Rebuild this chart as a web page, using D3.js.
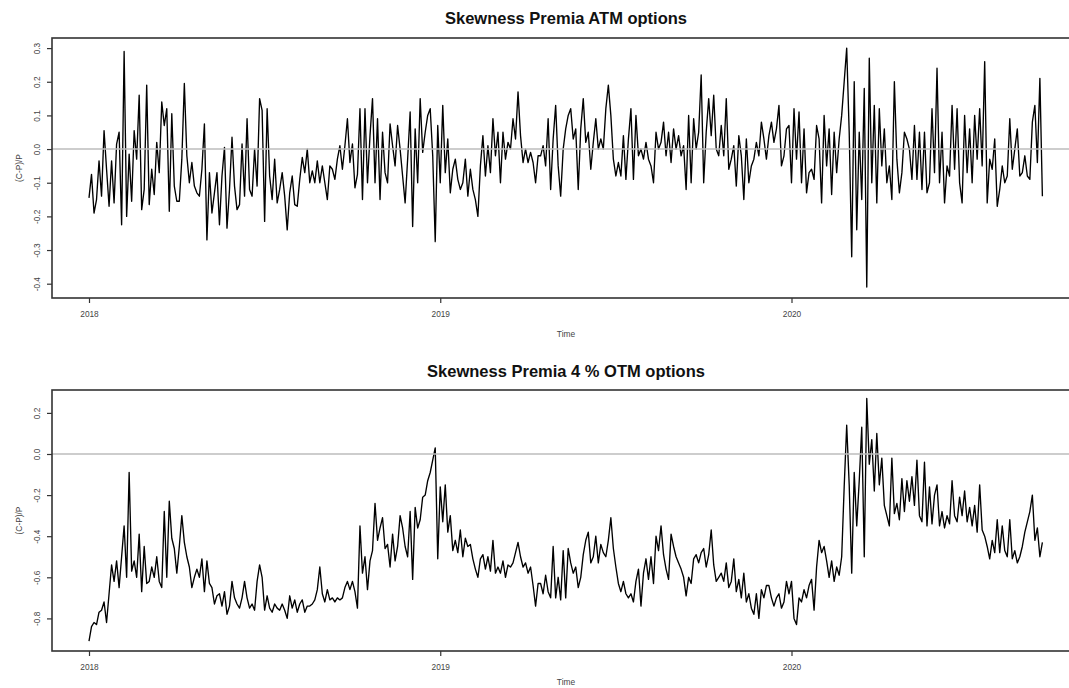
<!DOCTYPE html>
<html>
<head>
<meta charset="utf-8">
<script src="https://cdn.jsdelivr.net/npm/d3@7"></script>
<style>
  body { margin: 0; background: #fff; }
  svg { display: block; font-family: "Liberation Sans", Arial, sans-serif; }
</style>
</head>
<body>
<div id="chart"></div>
<script>
// ts-like series: start year and observations per year
const tsStart = 2018.0;
const tsFreq = 140;

const atmValues = [
  -0.145, -0.075, -0.19, -0.15, -0.035, -0.14, 0.055, -0.06, -0.17, -0.035, -0.16, 0.015,
  0.05, -0.225, 0.29, -0.2, -0.015, -0.155, 0.055, -0.03, 0.16, -0.18, -0.12, 0.19,
  -0.165, -0.06, -0.135, 0.02, -0.07, 0.14, 0.07, 0.12, -0.185, 0.105, -0.11, -0.155,
  -0.155, -0.03, 0.195, -0.02, -0.1, -0.04, -0.11, -0.13, -0.14, -0.06, 0.075, -0.27,
  -0.07, -0.19, -0.13, -0.07, -0.225, -0.08, 0.005, -0.235, -0.12, 0.035, -0.11, -0.18,
  -0.165, 0.015, -0.14, 0.09, -0.12, -0.14, 0.0, -0.11, 0.15, 0.115, -0.215, 0.12,
  -0.08, -0.15, -0.03, -0.16, -0.12, -0.07, -0.14, -0.24, -0.13, -0.08, -0.165, -0.17,
  -0.09, -0.025, -0.07, 0.0, -0.1, -0.065, -0.1, -0.035, -0.1, -0.05, -0.1, -0.15,
  -0.05, -0.06, -0.09, -0.03, 0.01, -0.06, 0.01, 0.09, -0.04, 0.015, -0.115, -0.075,
  0.12, -0.15, 0.12, -0.1, 0.04, 0.15, -0.1, 0.09, -0.15, 0.05, -0.07, -0.1,
  0.075, 0.01, -0.05, 0.07, 0.0, -0.08, -0.16, -0.03, 0.11, -0.23, 0.06, -0.1,
  0.15, -0.01, 0.05, 0.1, 0.12, -0.02, -0.275, 0.07, -0.1, 0.13, -0.07, 0.03,
  -0.13, -0.06, -0.03, -0.09, -0.12, -0.1, -0.03, -0.14, -0.06, -0.12, -0.15, -0.2,
  -0.05, 0.04, -0.08, 0.01, -0.07, 0.09, -0.02, 0.05, -0.1, 0.05, -0.03, 0.02,
  0.0, 0.09, 0.03, 0.17, 0.04, -0.04, 0.0, -0.04, -0.01, -0.04, -0.1, -0.02,
  -0.02, 0.01, -0.05, 0.09, -0.12, 0.03, 0.13, -0.05, -0.14, 0.0, 0.06, 0.1,
  0.12, 0.03, 0.06, -0.12, 0.06, 0.15, 0.02, 0.05, -0.06, 0.02, 0.09, 0.0,
  0.03, 0.0, 0.12, 0.19, 0.1, -0.03, -0.08, -0.04, -0.08, 0.04, -0.09, 0.03,
  0.12, -0.09, 0.1, -0.02, 0.0, -0.03, 0.02, -0.03, -0.05, -0.1, 0.05, 0.0,
  0.02, 0.08, -0.02, 0.05, -0.04, 0.06, 0.0, 0.04, -0.02, 0.01, -0.12, 0.1,
  -0.1, 0.09, 0.0, 0.05, 0.22, -0.1, 0.05, 0.15, 0.04, 0.16, 0.0, -0.02,
  0.07, -0.02, 0.15, -0.06, -0.03, 0.01, -0.11, 0.04, -0.02, -0.15, 0.03, -0.1,
  -0.05, -0.03, 0.02, -0.02, 0.08, 0.03, -0.03, 0.04, 0.08, 0.02, 0.06, 0.13,
  -0.05, -0.02, 0.06, 0.07, -0.1, 0.12, -0.03, 0.11, -0.1, 0.06, -0.13, -0.07,
  -0.06, -0.09, 0.07, 0.03, -0.16, 0.1, -0.05, 0.06, -0.135, 0.05, -0.07, 0.03,
  0.1, 0.2, 0.3, 0.05, -0.32, 0.2, -0.24, 0.05, -0.15, 0.18, -0.41, 0.27,
  -0.1, 0.13, -0.16, 0.12, -0.05, 0.06, -0.1, -0.05, -0.15, 0.2, -0.03, -0.13,
  -0.07, 0.05, 0.03, 0.0, -0.09, 0.07, -0.09, 0.05, -0.12, 0.05, -0.13, -0.1,
  0.12, -0.07, 0.24, -0.1, 0.05, -0.16, -0.05, -0.08, 0.13, -0.06, 0.12, -0.1,
  -0.16, 0.1, -0.07, 0.06, -0.1, 0.1, -0.03, 0.12, -0.05, 0.26, -0.16, -0.03,
  -0.06, 0.03, -0.17, -0.12, -0.05, -0.1, -0.08, 0.09, -0.06, 0.0, 0.06, -0.08,
  -0.07, -0.02, -0.08, -0.09, 0.08, 0.13, -0.04, 0.21, -0.14
];

const otmValues = [
  -0.91, -0.84, -0.82, -0.83, -0.77, -0.76, -0.72, -0.82, -0.68, -0.54, -0.62, -0.52,
  -0.65, -0.5, -0.35, -0.6, -0.09, -0.57, -0.52, -0.6, -0.39, -0.67, -0.45, -0.63,
  -0.62, -0.55, -0.6, -0.5, -0.62, -0.65, -0.28, -0.6, -0.23, -0.41, -0.46, -0.58,
  -0.45, -0.3, -0.43, -0.5, -0.55, -0.65, -0.6, -0.56, -0.6, -0.51, -0.67, -0.52,
  -0.63, -0.65, -0.73, -0.69, -0.68, -0.74, -0.67, -0.78, -0.74, -0.62, -0.7, -0.73,
  -0.75, -0.7, -0.62, -0.7, -0.75, -0.73, -0.76, -0.62, -0.54, -0.6, -0.76, -0.69,
  -0.75, -0.77, -0.73, -0.75, -0.76, -0.73, -0.76, -0.8, -0.69, -0.75, -0.71, -0.77,
  -0.73, -0.71, -0.77, -0.74, -0.74, -0.73, -0.71, -0.66, -0.55, -0.68, -0.72, -0.66,
  -0.71, -0.7, -0.72, -0.7, -0.71, -0.7, -0.65, -0.62, -0.66, -0.62, -0.67, -0.75,
  -0.35, -0.58, -0.5, -0.66, -0.52, -0.47, -0.24, -0.42, -0.36, -0.31, -0.46, -0.44,
  -0.55, -0.39, -0.52, -0.45, -0.3, -0.36, -0.45, -0.5, -0.28, -0.61, -0.26, -0.36,
  -0.32, -0.21, -0.2, -0.13, -0.09, -0.03, 0.03, -0.51, -0.16, -0.33, -0.15, -0.38,
  -0.3, -0.47, -0.42, -0.48, -0.37, -0.5, -0.41, -0.45, -0.44, -0.51, -0.56, -0.6,
  -0.51, -0.49, -0.56, -0.5, -0.57, -0.42, -0.58, -0.55, -0.58, -0.52, -0.6, -0.54,
  -0.55, -0.53, -0.48, -0.43, -0.5, -0.55, -0.53, -0.58, -0.55, -0.64, -0.74, -0.63,
  -0.63, -0.68, -0.59, -0.67, -0.7, -0.45, -0.7, -0.6, -0.71, -0.47, -0.7, -0.46,
  -0.53, -0.58, -0.55, -0.65, -0.6, -0.49, -0.42, -0.38, -0.53, -0.5, -0.4, -0.53,
  -0.44, -0.48, -0.5, -0.42, -0.31, -0.46, -0.55, -0.63, -0.67, -0.62, -0.68, -0.7,
  -0.68, -0.72, -0.62, -0.56, -0.74, -0.58, -0.51, -0.61, -0.5, -0.63, -0.4, -0.47,
  -0.35, -0.49, -0.56, -0.61, -0.39, -0.45, -0.5, -0.53, -0.56, -0.6, -0.69, -0.6,
  -0.63, -0.51, -0.49, -0.53, -0.48, -0.46, -0.55, -0.49, -0.37, -0.54, -0.62, -0.6,
  -0.58, -0.62, -0.53, -0.65, -0.62, -0.51, -0.67, -0.61, -0.7, -0.58, -0.72, -0.68,
  -0.75, -0.78, -0.68, -0.8, -0.66, -0.7, -0.64, -0.64, -0.7, -0.74, -0.7, -0.68,
  -0.75, -0.72, -0.62, -0.68, -0.62, -0.8, -0.83, -0.7, -0.72, -0.66, -0.7, -0.64,
  -0.61, -0.76, -0.55, -0.42, -0.48, -0.45, -0.52, -0.6, -0.52, -0.62, -0.55, -0.59,
  -0.5, -0.16, 0.14, -0.15, -0.58, -0.09, -0.35, -0.13, 0.13, -0.5, 0.27, -0.05,
  0.07, -0.18, 0.1, -0.15, -0.02, -0.25, -0.3, -0.35, -0.02, -0.29, -0.24, -0.32,
  -0.12, -0.28, -0.13, -0.23, -0.11, -0.25, -0.03, -0.3, -0.33, -0.04, -0.35, -0.16,
  -0.34, -0.2, -0.15, -0.35, -0.28, -0.36, -0.3, -0.34, -0.13, -0.3, -0.33, -0.21,
  -0.3, -0.18, -0.33, -0.26, -0.35, -0.25, -0.38, -0.15, -0.37, -0.4, -0.45, -0.51,
  -0.42, -0.48, -0.32, -0.48, -0.35, -0.47, -0.5, -0.32, -0.51, -0.47, -0.53, -0.5,
  -0.45, -0.38, -0.33, -0.28, -0.2, -0.42, -0.36, -0.5, -0.43
];

const yearTicks = [2018, 2019, 2020];
const atmTicks = [-0.4, -0.3, -0.2, -0.1, 0.0, 0.1, 0.2, 0.3];
const otmTicks = [-0.8, -0.6, -0.4, -0.2, 0.0, 0.2];
const atmTitle = "Skewness Premia ATM options";
const otmTitle = "Skewness Premia 4 % OTM options";
const xLabelText = "Time";
const yLabelText = "(C-P)/P";

let width = 1069;
let height = 688;

let svg = d3.select("#chart").append("svg")
  .attr("width", width)
  .attr("height", height);

let boxLeft = 52;
let boxRight = 1080; // right edge is cut off in the original
let xScale = d3.scaleLinear()
  .domain([2018, 2020])
  .range([89, 791.5]);

let fmt = d3.format(".1f");

function drawPanel(values, ticks, yDomain, top, bottom, title, titleY, timeY) {
  let g = svg.append("g");
  let yScale = d3.scaleLinear()
    .domain(yDomain)
    .range([bottom, top]);

  let line = d3.line()
    .x((d, i) => xScale(tsStart + i / tsFreq))
    .y((d) => yScale(d));

  g.append("path")
    .datum(values)
    .attr("fill", "none")
    .attr("stroke", "#000")
    .attr("stroke-width", 1.35)
    .attr("stroke-linejoin", "round")
    .attr("d", line);

  // abline(h = 0)
  g.append("line")
    .attr("x1", boxLeft).attr("x2", boxRight)
    .attr("y1", yScale(0)).attr("y2", yScale(0))
    .attr("stroke", "#bdbdbd")
    .attr("stroke-width", 1.4);

  g.append("rect")
    .attr("x", boxLeft).attr("y", top)
    .attr("width", boxRight - boxLeft).attr("height", bottom - top)
    .attr("fill", "none")
    .attr("stroke", "#333")
    .attr("stroke-width", 1.6);

  let xAxis = d3.axisBottom(xScale)
    .tickValues(yearTicks)
    .tickSize(5)
    .tickPadding(8)
    .tickFormat(d3.format("d"));
  let gx = g.append("g")
    .attr("transform", `translate(0, ${bottom})`)
    .call(xAxis);
  gx.select(".domain").remove();
  gx.selectAll(".tick line").attr("stroke", "#333").attr("stroke-width", 1.2);
  gx.selectAll(".tick text")
    .attr("fill", "#444")
    .style("font-size", "8.3px")
    .style("font-family", "Liberation Sans, Arial, sans-serif");

  let yAxis = d3.axisLeft(yScale)
    .tickValues(ticks)
    .tickSize(5)
    .tickFormat((d) => fmt(d).replace("\u2212", "-"));
  let gy = g.append("g")
    .attr("transform", `translate(${boxLeft}, 0)`)
    .call(yAxis);
  gy.select(".domain").remove();
  gy.selectAll(".tick line").attr("stroke", "#333").attr("stroke-width", 1.2);
  gy.selectAll(".tick text")
    .attr("x", 0)
    .attr("y", 0)
    .attr("dy", "0.35em")
    .attr("text-anchor", "middle")
    .attr("transform", "translate(-15, 0) rotate(-90)")
    .attr("fill", "#444")
    .style("font-size", "8.3px")
    .style("font-family", "Liberation Sans, Arial, sans-serif");

  g.append("text")
    .text(title)
    .attr("x", 566)
    .attr("y", titleY)
    .attr("text-anchor", "middle")
    .attr("fill", "#111")
    .style("font-weight", "bold")
    .style("font-size", "16.5px");

  g.append("text")
    .text(xLabelText)
    .attr("x", 566)
    .attr("y", timeY)
    .attr("text-anchor", "middle")
    .attr("fill", "#444")
    .style("font-size", "8.4px");

  g.append("text")
    .text(yLabelText)
    .attr("dy", "0.35em")
    .attr("text-anchor", "middle")
    .attr("transform", `translate(19, ${(top + bottom) / 2}) rotate(-90)`)
    .attr("fill", "#444")
    .style("font-size", "8.4px");
}

drawPanel(atmValues, atmTicks, [-0.4425, 0.33], 38, 298, atmTitle, 24, 337);
drawPanel(otmValues, otmTicks, [-0.9586, 0.3114], 390, 651, otmTitle, 376.5, 685);
</script>
</body>
</html>
